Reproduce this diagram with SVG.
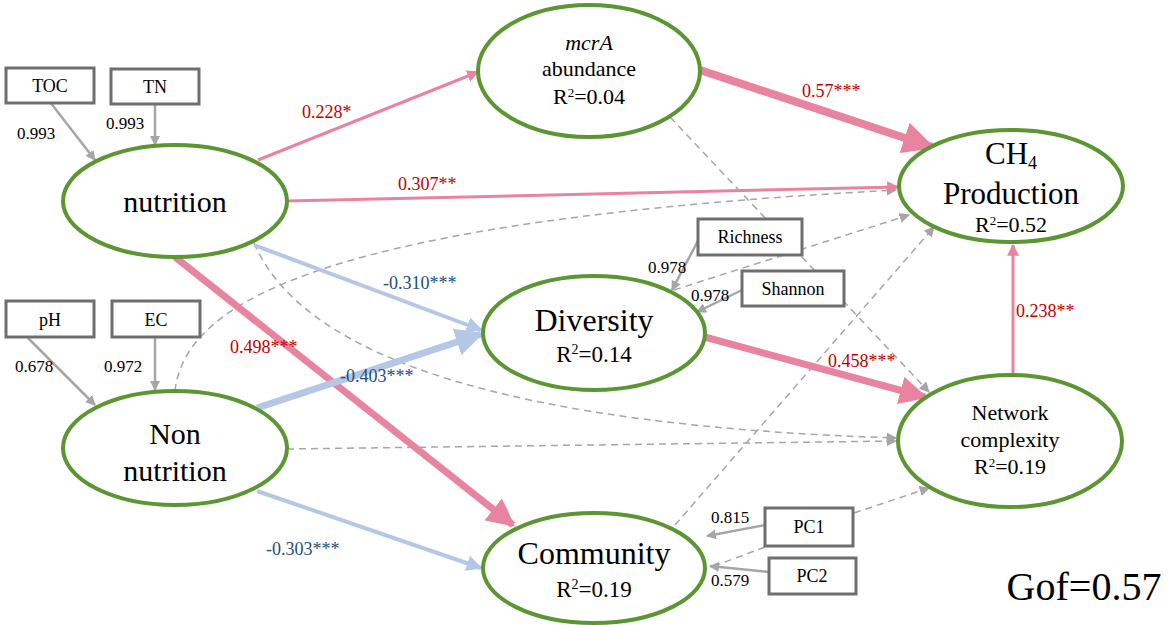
<svg xmlns="http://www.w3.org/2000/svg" width="1170" height="625" viewBox="0 0 1170 625" font-family="'Liberation Serif', serif">
<style>
.n{fill:#fff;stroke:#5b9632;stroke-width:4}
.b{fill:#fff;stroke:#6e6e6e;stroke-width:3}
text{font-family:"Liberation Serif",serif}
.t{fill:#000;text-anchor:middle}
.p{stroke:#e8849f;fill:none}
.u{stroke:#b4c7e7;fill:none}
.g{stroke:#a6a6a6;stroke-width:2.5;fill:none}
.d{stroke:#a6a6a6;stroke-width:1.5;stroke-dasharray:7,5;fill:none}
.r{fill:#c00000;font-size:18px}
.l{fill:#1f4e79;font-size:18px}
.k{fill:#000;font-size:17px}
</style>
<defs>
<marker id="ap" viewBox="0 0 10 10" refX="9" refY="5" markerWidth="4" markerHeight="4" orient="auto" markerUnits="strokeWidth"><path d="M0,0L10,5L0,10z" fill="#e8849f"/></marker>
<marker id="au" viewBox="0 0 10 10" refX="9" refY="5" markerWidth="4" markerHeight="4" orient="auto" markerUnits="strokeWidth"><path d="M0,0L10,5L0,10z" fill="#b4c7e7"/></marker>
<marker id="ag" viewBox="0 0 10 10" refX="9" refY="5" markerWidth="4" markerHeight="4" orient="auto" markerUnits="strokeWidth"><path d="M0,0L10,5L0,10z" fill="#a6a6a6"/></marker>
<marker id="ad" viewBox="0 0 10 10" refX="9" refY="5" markerWidth="7" markerHeight="7" orient="auto" markerUnits="strokeWidth"><path d="M0,0L10,5L0,10z" fill="#a6a6a6"/></marker>
</defs>
<g id="connectors">
<path class="d" d="M287,449L896,441" marker-end="url(#ad)"/>
<path class="d" d="M254,243Q330,420 896,438" marker-end="url(#ad)"/>
<path class="d" d="M175,391C185,300 330,220 896,190" marker-end="url(#ad)"/>
<path class="d" d="M670,117L929,392" marker-end="url(#ad)"/>
<path class="d" d="M675,525L934,227" marker-end="url(#ad)"/>
<path class="d" d="M674,290L909,215" marker-end="url(#ad)"/>
<path class="d" d="M854,513L929,488" marker-end="url(#ad)"/>
<path class="d" d="M765,547L709,568"/>
<path class="g" d="M50,102L95,160" marker-end="url(#ag)"/>
<path class="g" d="M155,104L155,145" marker-end="url(#ag)"/>
<path class="g" d="M28,338L95,405" marker-end="url(#ag)"/>
<path class="g" d="M155,338L155,390" marker-end="url(#ag)"/>
<path class="g" d="M700,237L672,290" marker-end="url(#ag)"/>
<path class="g" d="M742,290L697,312" marker-end="url(#ag)"/>
<path class="g" d="M765,525L707,536" marker-end="url(#ag)"/>
<path class="g" d="M769,572L710,566" marker-end="url(#ag)"/>
<path class="p" stroke-width="3" d="M258,160L478,72" marker-end="url(#ap)"/>
<path class="p" stroke-width="3" d="M287,201L898,187" marker-end="url(#ap)"/>
<path class="p" stroke-width="8" d="M700,70L932,147" marker-end="url(#ap)"/>
<path class="p" stroke-width="7" d="M175,257L513,525" marker-end="url(#ap)"/>
<path class="p" stroke-width="7" d="M701,336L925,397" marker-end="url(#ap)"/>
<path class="p" stroke-width="3" d="M1013,376L1013,245" marker-end="url(#ap)"/>
<path class="u" stroke-width="4" d="M254,245L481,330" marker-end="url(#au)"/>
<path class="u" stroke-width="7" d="M257,408L481,334" marker-end="url(#au)"/>
<path class="u" stroke-width="4" d="M257,491L481,568" marker-end="url(#au)"/>
<text class="k" x="17" y="139">0.993</text>
<text class="k" x="106" y="129">0.993</text>
<text class="k" x="15" y="372">0.678</text>
<text class="k" x="104" y="372">0.972</text>
<text class="k" x="648" y="273">0.978</text>
<text class="k" x="691" y="301">0.978</text>
<text class="k" x="711" y="523">0.815</text>
<text class="k" x="711" y="586">0.579</text>
<text class="r" x="302" y="118">0.228*</text>
<text class="r" x="398" y="190">0.307**</text>
<text class="r" x="802" y="97">0.57***</text>
<text class="r" x="230" y="353">0.498***</text>
<text class="r" x="828" y="367">0.458***</text>
<text class="r" x="1016" y="317">0.238**</text>
<text class="l" x="383" y="289">-0.310***</text>
<text class="l" x="340" y="382">-0.403***</text>
<text class="l" x="266" y="555">-0.303***</text>
</g>
<g id="TOC"><rect class="b" x="6" y="68" width="88" height="35"/><text class="t" x="50" y="92" font-size="18">TOC</text></g>
<g id="TN"><rect class="b" x="111" y="69" width="88" height="35"/><text class="t" x="155" y="93" font-size="18">TN</text></g>
<g id="pH"><rect class="b" x="6" y="301" width="88" height="36"/><text class="t" x="50" y="326" font-size="18">pH</text></g>
<g id="EC"><rect class="b" x="112" y="301" width="88" height="36"/><text class="t" x="156" y="326" font-size="18">EC</text></g>
<g id="Richness"><rect class="b" x="698" y="219" width="104" height="36"/><text class="t" x="750" y="243" font-size="18">Richness</text></g>
<g id="Shannon"><rect class="b" x="742" y="271" width="102" height="35"/><text class="t" x="793" y="295" font-size="18">Shannon</text></g>
<g id="PC1"><rect class="b" x="765" y="508" width="88" height="38"/><text class="t" x="809" y="533" font-size="18">PC1</text></g>
<g id="PC2"><rect class="b" x="769" y="558" width="87" height="36"/><text class="t" x="812" y="582" font-size="18">PC2</text></g>
<g id="nutrition"><ellipse class="n" cx="175" cy="201" rx="112" ry="56"/><text class="t" x="175" y="212" font-size="30">nutrition</text></g>
<g id="NonNutrition"><ellipse class="n" cx="175" cy="448" rx="112" ry="57"/><text class="t" x="175" y="444" font-size="30">Non</text><text class="t" x="175" y="481" font-size="30">nutrition</text></g>
<g id="mcrA"><ellipse class="n" cx="589" cy="71" rx="111" ry="66"/><text class="t" x="589" y="50" font-size="22" font-style="italic">mcrA</text><text class="t" x="589" y="76" font-size="22">abundance</text><text class="t" x="589" y="104" font-size="22">R<tspan font-size="13" dy="-7">2</tspan><tspan dy="7">=0.04</tspan></text></g>
<g id="Diversity"><ellipse class="n" cx="594" cy="333" rx="111" ry="57"/><text class="t" x="594" y="331" font-size="32">Diversity</text><text class="t" x="594" y="362" font-size="23">R<tspan font-size="14" dy="-8">2</tspan><tspan dy="8">=0.14</tspan></text></g>
<g id="CH4"><ellipse class="n" cx="1011" cy="186" rx="112" ry="56"/><text class="t" x="1011" y="164" font-size="31">CH<tspan font-size="18" dy="5">4</tspan></text><text class="t" x="1011" y="204" font-size="31">Production</text><text class="t" x="1011" y="232" font-size="22">R<tspan font-size="13" dy="-7">2</tspan><tspan dy="7">=0.52</tspan></text></g>
<g id="Network"><ellipse class="n" cx="1010" cy="441" rx="112" ry="66"/><text class="t" x="1010" y="420" font-size="22">Network</text><text class="t" x="1010" y="447" font-size="22">complexity</text><text class="t" x="1010" y="474" font-size="22">R<tspan font-size="13" dy="-7">2</tspan><tspan dy="7">=0.19</tspan></text></g>
<g id="Community"><ellipse class="n" cx="594" cy="568" rx="111" ry="55"/><text class="t" x="594" y="564" font-size="32">Community</text><text class="t" x="594" y="597" font-size="23">R<tspan font-size="14" dy="-8">2</tspan><tspan dy="8">=0.19</tspan></text></g>
<text class="t" x="1084" y="600" font-size="40">Gof=0.57</text>
</svg>
